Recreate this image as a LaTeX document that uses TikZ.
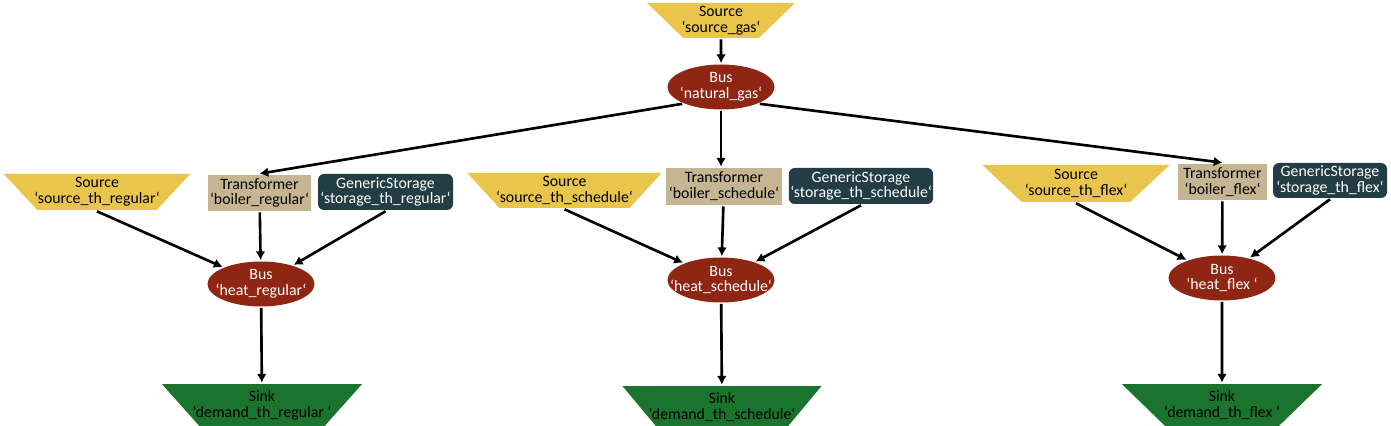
\documentclass[tikz,border=0pt]{standalone}
\usepackage{fontspec}
\setmainfont{Carlito}
\usepackage{tikz}
\usepackage{xcolor}
\usetikzlibrary{shapes.geometric,arrows.meta}

\definecolor{srcyellow}{HTML}{E9C54B}
\definecolor{busred}{HTML}{8F2614}
\definecolor{trftan}{HTML}{C6B592}
\definecolor{stodark}{HTML}{233D45}
\definecolor{sinkgreen}{HTML}{1B742E}

\begin{document}
\begin{tikzpicture}[
	font=\fontsize{9}{9}\selectfont,
	>={Latex[length=5pt,width=5.5pt]},
	every path/.style={line width=1.5pt},
	source/.style={trapezium, shape border rotate=180, trapezium angle=47,
		trapezium stretches=true, fill=srcyellow, draw=none, inner xsep=-0.3cm,
		inner ysep=0pt, minimum height=0.72cm, align=center},
	sink/.style={trapezium, shape border rotate=180, trapezium angle=45,
		trapezium stretches=true, fill=sinkgreen, draw=none, inner xsep=-0.4cm,
		inner ysep=0pt, minimum width=4.02cm, minimum height=0.84cm, align=center},
	bus/.style={ellipse, fill=busred, draw=none, text=white, inner xsep=-0.3cm,
		inner ysep=-0.08cm, minimum width=2.14cm, minimum height=0.9cm, align=center},
	trafo/.style={rectangle, fill=trftan, draw=none, inner xsep=0.03cm,
		inner ysep=0pt, minimum height=0.72cm, align=center},
	storage/.style={rectangle, rounded corners=0.12cm, fill=stodark, draw=none,
		text=white, inner xsep=0.03cm, inner ysep=0pt, minimum height=0.72cm,
		align=center}
	]
	
	\useasboundingbox (0,0) rectangle (27.82,-8.52);
	
	% Draw nodes, gas supply
	\node[source, trapezium angle=51, minimum width=2.96cm, minimum height=0.7cm] (SGas) at (14.42,-0.41) {Source\\‘source\_gas‘};
	\node[bus] (BGas) at (14.42,-1.74) {Bus\\‘natural\_gas‘};
	
	% Draw nodes, regular
	\node[source, minimum width=3.76cm] (SReg) at (1.94,-3.84) {Source\\‘source\_th\_regular‘};
	\node[trafo, minimum width=2.06cm] (TReg) at (5.19,-3.86) {Transformer\\‘boiler\_regular‘};
	\node[storage, minimum width=2.70cm] (GReg) at (7.71,-3.84) {GenericStorage\\‘storage\_th\_regular‘};
	\node[bus] (BReg) at (5.22,-5.68) {Bus\\‘heat\_regular‘};
	\node[sink] (DReg) at (5.24,-8.10) {Sink\\‘demand\_th\_regular ‘};
	
	% Draw nodes, schedule
	\node[source, minimum width=3.90cm, minimum height=0.7cm] (SSch) at (11.29,-3.81) {Source\\‘source\_th\_schedule‘};
	\node[trafo, minimum width=2.32cm, minimum height=0.74cm] (TSch) at (14.48,-3.73) {Transformer\\‘boiler\_schedule‘};
	\node[storage, minimum width=2.88cm] (GSch) at (17.22,-3.72) {GenericStorage\\‘storage\_th\_schedule‘};
	\node[bus] (BSch) at (14.42,-5.60) {Bus\\‘heat\_schedule‘};
	\node[sink] (DSch) at (14.44,-8.14) {Sink\\‘demand\_th\_schedule‘};
	
	% Draw nodes, flex
	\node[source, minimum width=3.76cm, minimum height=0.74cm] (SFlex) at (21.52,-3.67) {Source\\‘source\_th\_flex‘};
	\node[trafo, minimum width=1.78cm] (TFlex) at (24.45,-3.64) {Transformer\\‘boiler\_flex‘};
	\node[storage, minimum width=2.28cm, minimum height=0.7cm] (GFlex) at (26.60,-3.61) {GenericStorage\\‘storage\_th\_flex‘};
	\node[bus] (BFlex) at (24.44,-5.56) {Bus\\‘heat\_flex ‘};
	\node[sink] (DFlex) at (24.44,-8.10) {Sink\\‘demand\_th\_flex ‘};
	
	% Draw arcs, gas to the boilers
	\draw[->] (SGas) to (BGas);
	\draw[->] (BGas.south west) to (TReg.north);
	\draw[->] (BGas) to (BGas |- TSch.north);
	\draw[->] (BGas.south east) to (TFlex.north);
	
	% Draw arcs, into the heat buses
	\draw[->] (SReg.south) to (BReg);
	\draw[->] (TReg) to (BReg);
	\draw[->] (GReg.south) to (BReg);
	\draw[->] (SSch.south) to (BSch);
	\draw[->] (TSch) to (BSch);
	\draw[->] (GSch.south) to (BSch);
	\draw[->] (SFlex.south) to (BFlex);
	\draw[->] (TFlex) to (BFlex);
	\draw[->] (GFlex.south) to (BFlex);
	
	% Draw arcs, buses to the sinks
	\draw[->] (BReg) to (DReg);
	\draw[->] (BSch) to (DSch);
	\draw[->] (BFlex) to (DFlex);
	
\end{tikzpicture}
\end{document}
